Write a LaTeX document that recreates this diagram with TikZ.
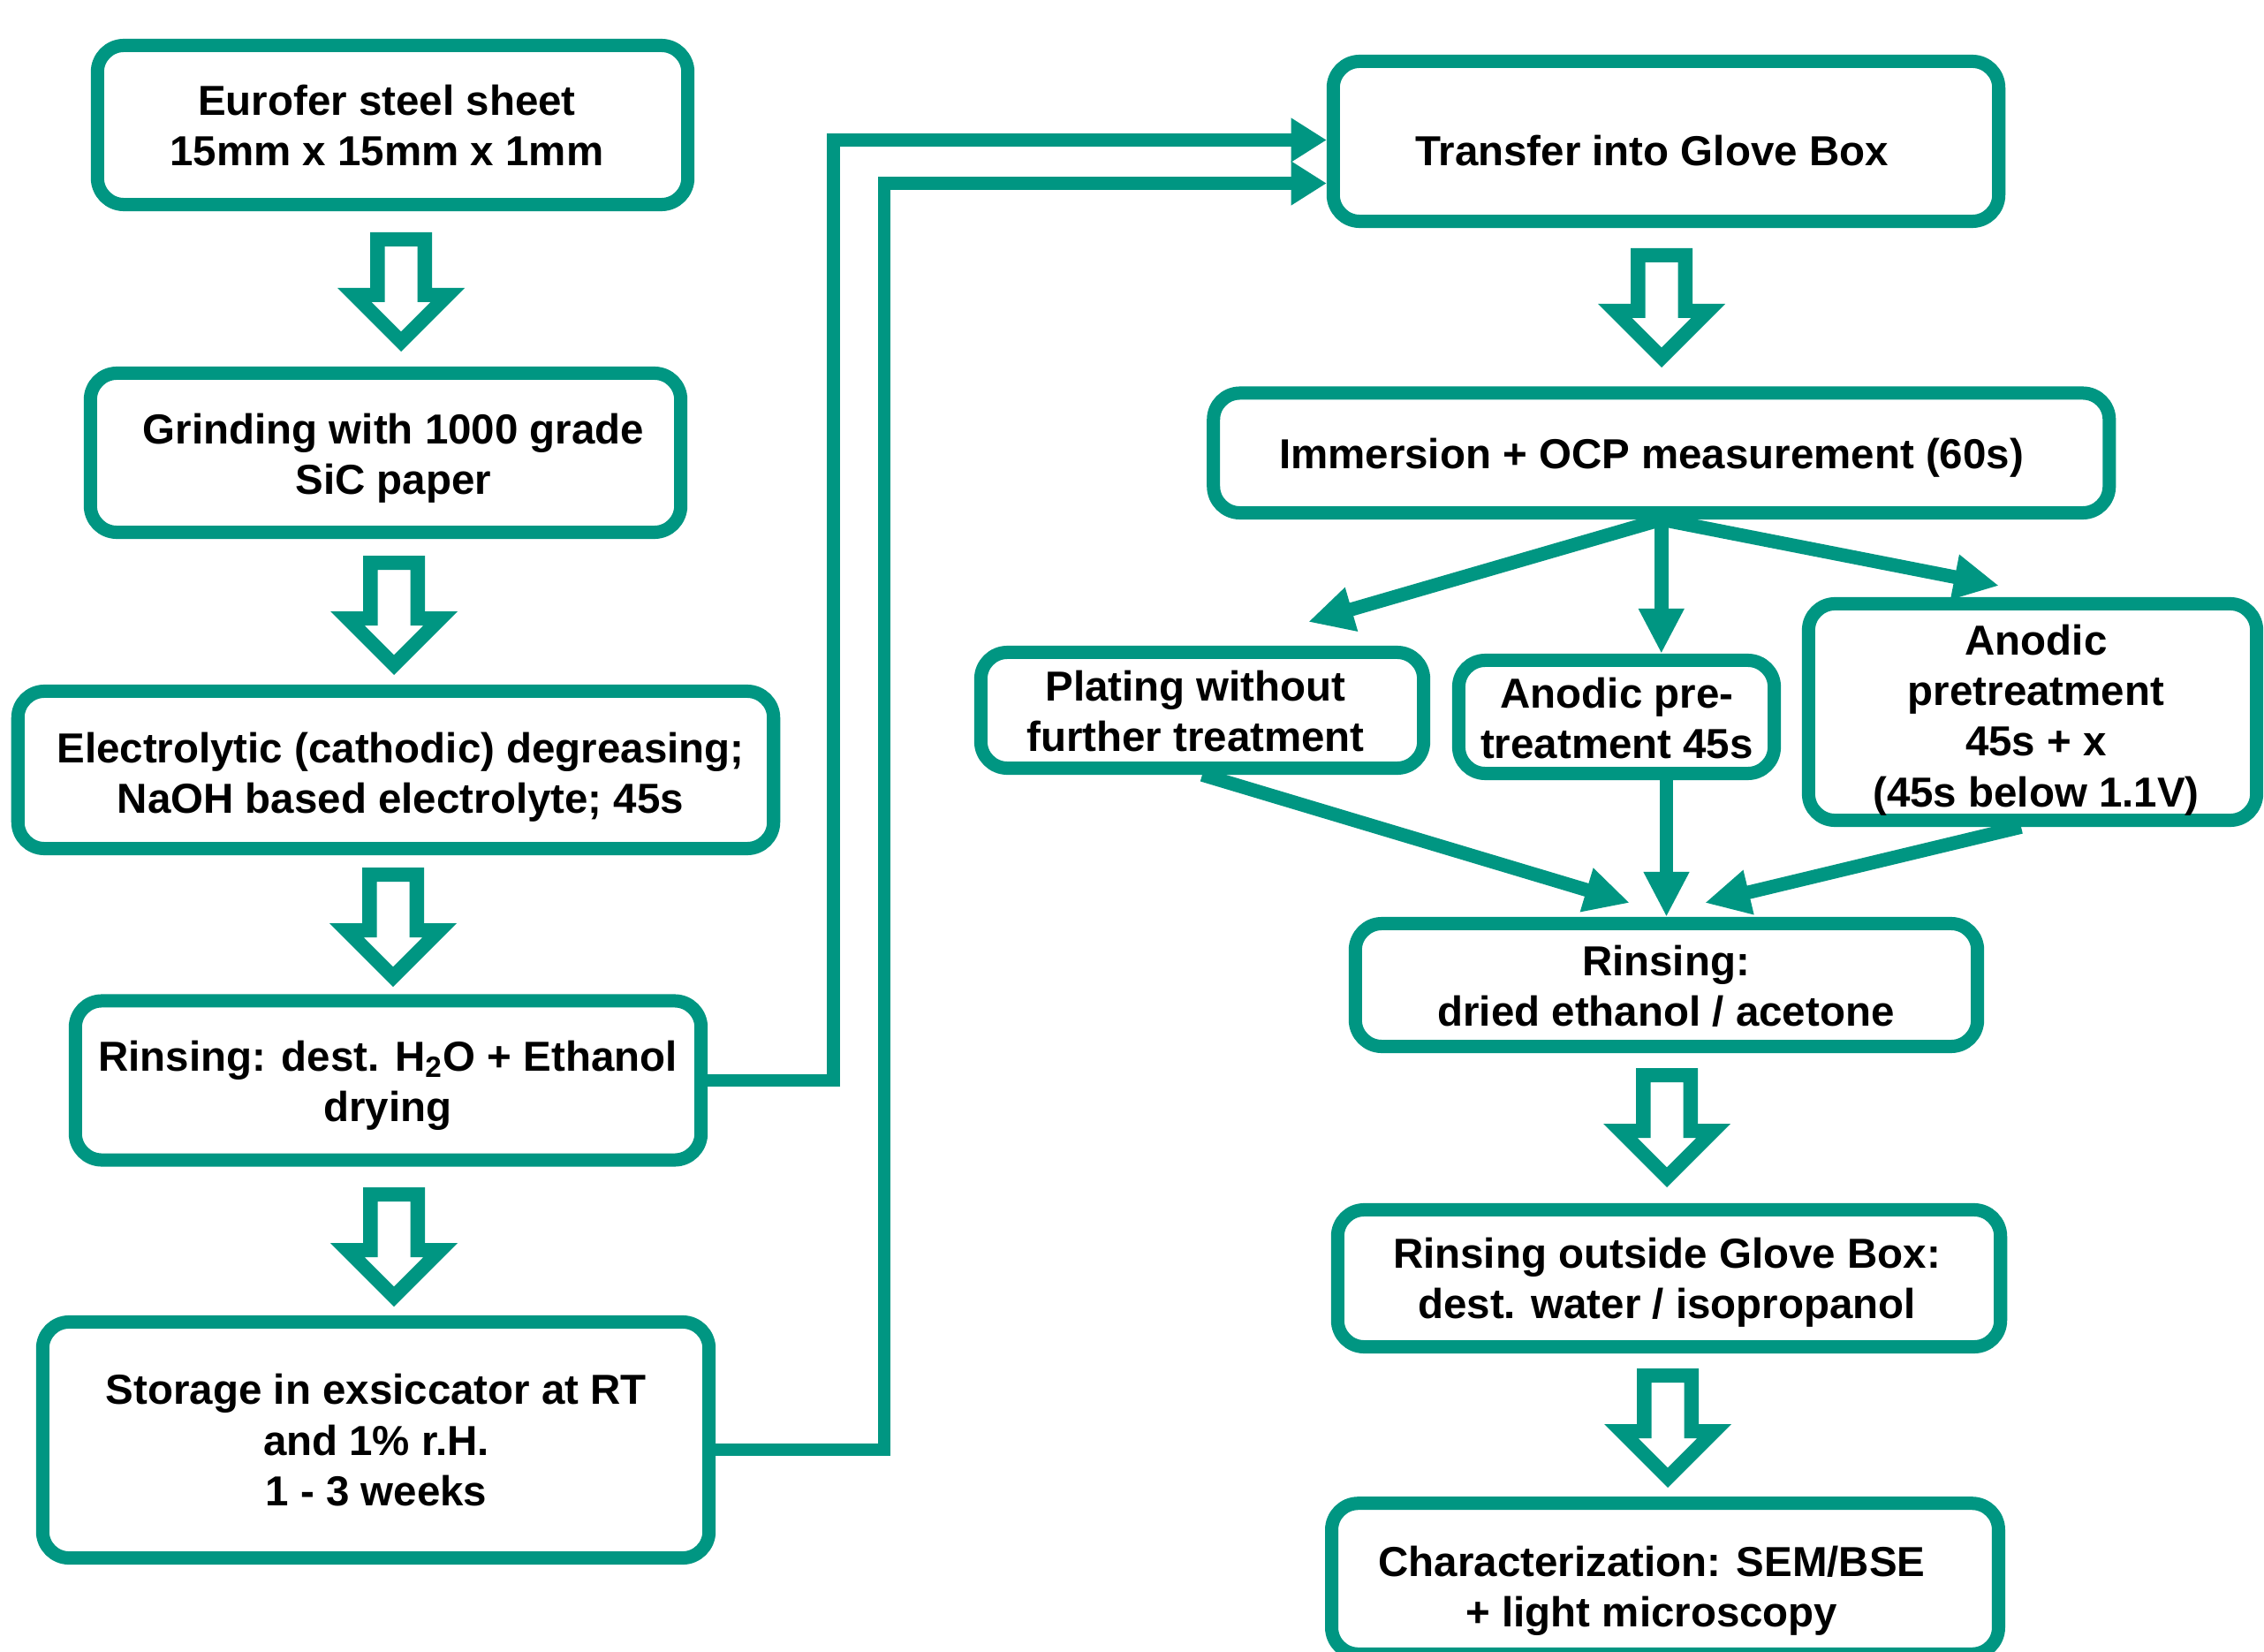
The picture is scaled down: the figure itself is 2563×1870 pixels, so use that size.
\documentclass[tikz,border=0pt]{standalone}
\usepackage{fontspec}
\setmainfont{Liberation Sans}
\usetikzlibrary{arrows.meta}
\definecolor{kit}{RGB}{0,150,130}
\begin{document}
\begin{tikzpicture}[x=0.01cm,y=-0.01cm,
  box/.style={draw=kit,line width=4.27pt,rounded corners=0.3cm,inner sep=0pt,fill=white},
  txt/.style={font=\fontsize{13.5}{16.3}\selectfont\bfseries,align=center,inner sep=0pt,text depth=0pt},
  conn/.style={kit,line width=4pt,line join=miter,-{Triangle[length=11.4pt,width=13.4pt]}},
  branch/.style={kit,line width=4.4pt,-{Triangle[length=14.5pt,width=13.7pt]}},
  hollow/.pic={
    \fill[kit,even odd rule]
      (-35,0)--(35,0)--(35,63)--(72,63)--(0,135)--(-72,63)--(-35,63)--cycle
      (-18.5,16)--(18.5,16)--(18.5,79)--(33.4,79)--(0,112.4)--(-33.4,79)--(-18.5,79)--cycle;
  }]
\fill[white] (0,0) rectangle (2563,1870);
\useasboundingbox (0,0) rectangle (2563,1870);

% left column boxes
\node[box,minimum width=6.68cm,minimum height=1.80cm] (b1) at (444.5,141.5) {};
\node[box,minimum width=6.68cm,minimum height=1.80cm] (b2) at (436.5,512.5) {};
\node[box,minimum width=8.55cm,minimum height=1.78cm] (b3) at (448,871.5) {};
\node[box,minimum width=7.08cm,minimum height=1.80cm] (b4) at (439.5,1223) {};
\node[box,minimum width=7.54cm,minimum height=2.67cm] (b5) at (425.5,1630) {};

% right column boxes
\node[box,minimum width=7.53cm,minimum height=1.81cm] (b6) at (1886,160) {};
\node[box,minimum width=10.135cm,minimum height=1.355cm] (b7) at (1880.75,512.75) {};
\node[box,minimum width=5.01cm,minimum height=1.31cm] (b8) at (1361,804) {};
\node[box,minimum width=3.57cm,minimum height=1.28cm] (b9) at (1830,811.5) {};
\node[box,minimum width=5.07cm,minimum height=2.45cm] (b10) at (2301,806) {};
\node[box,minimum width=7.04cm,minimum height=1.39cm] (b11) at (1886.5,1115) {};
\node[box,minimum width=7.50cm,minimum height=1.55cm] (b12) at (1889.5,1447) {};
\node[box,minimum width=7.545cm,minimum height=1.705cm] (b13) at (1885,1787) {};

% texts
\node[txt] (t1) at (438,141.5) {Eurofer steel sheet\\15mm x 15mm x 1mm};
\node[txt] (t2) at (445.5,514) {Grinding with 1000 grade\\SiC paper};
\node[txt] (t3) at (453.5,875) {Electrolytic (cathodic) degreasing;\\NaOH based electrolyte; 45s};
\node[txt] (t4) at (439,1223.5) {Rinsing: dest. H\textsubscript{2}O + Ethanol\\drying};
\node[txt] (t5) at (426,1630) {Storage in exsiccator at RT\\and 1\% r.H.\\1 - 3 weeks};
\node[txt] (t6) at (1870,170) {Transfer into Glove Box};
\node[txt] (t7) at (1869.5,513) {Immersion + OCP measurement (60s)};
\node[txt] (t8) at (1353.5,805) {Plating without\\further treatment};
\node[txt] (t9) at (1830.5,813) {Anodic pre-\\treatment 45s};
\node[txt] (t10) at (2305,810) {Anodic\\pretreatment\\45s + x\\(45s below 1.1V)};
\node[txt] (t11) at (1886,1115.6) {Rinsing:\\dried ethanol / acetone};
\node[txt] (t12) at (1887,1447) {Rinsing outside Glove Box:\\dest. water / isopropanol};
\node[txt] (t13) at (1870,1795.6) {Characterization: SEM/BSE\\+ light microscopy};

% hollow arrows
\pic (a1) at (454,263) {hollow};
\pic (a2) at (446,629) {hollow};
\pic (a3) at (445,982) {hollow};
\pic (a4) at (446,1344) {hollow};
\pic (a5) at (1881,281) {hollow};
\pic (a6) at (1887,1209) {hollow};
\pic (a7) at (1888,1549) {hollow};

% connectors to glove box
\coordinate (k1) at (943.5,158.5);
\coordinate (k2) at (1001,207.5);
\draw[conn] (b4.east) -| (k1) -- (k1 -| b6.west);
\draw[conn] ([yshift=-0.11cm]b5.east) -| (k2) -- (k2 -| b6.west);

% branches
\coordinate (p8) at (1481,704);
\coordinate (p10) at (2263,663);
\draw[branch] (b7.south) -- (p8);
\draw[branch] (b7.south) -- (b7.south |- b9.north);
\draw[branch] (b7.south) -- (p10);

% converging
\coordinate (q8) at (1845,1022);
\coordinate (q10) at (1930,1022);
\draw[branch] (b8.south) -- (q8);
\draw[branch] (b9.south -| b11.north) -- (b11.north);
\draw[branch] ([xshift=-0.13cm]b10.south) -- (q10);
\end{tikzpicture}
\end{document}
